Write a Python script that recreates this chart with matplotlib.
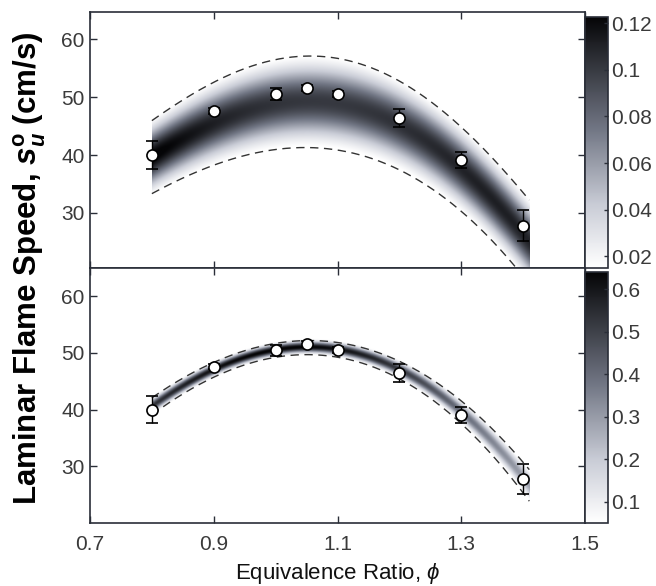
import numpy as np
import matplotlib
matplotlib.use("Agg")
import matplotlib.pyplot as plt
from matplotlib.colors import LinearSegmentedColormap

plt.rcParams['font.family'] = ['Liberation Sans', 'DejaVu Sans']
plt.rcParams['mathtext.fontset'] = 'custom'
plt.rcParams['mathtext.rm'] = 'Liberation Sans'
plt.rcParams['mathtext.it'] = 'Liberation Sans:italic'
plt.rcParams['mathtext.bf'] = 'Liberation Sans:bold'
plt.rcParams['mathtext.bfit'] = 'Liberation Sans:italic:bold'

# measured flame speeds
phi = [0.8, 0.9, 1.0, 1.05, 1.1, 1.2, 1.3, 1.4]
su = [40.0, 47.6, 50.5, 51.6, 50.5, 46.4, 39.1, 27.8]
su_err = [2.4, 0.5, 1.0, 0.5, 0.5, 1.6, 1.4, 2.7]

# model mean / std dev (prior on top, constrained below)
phi_model = [0.8, 0.9, 1.0, 1.1, 1.2, 1.3, 1.4]
prior_mean = [39.7, 45.2, 48.9, 49.0, 44.6, 37.9, 26.2]
prior_sd = [3.15, 3.6, 3.8, 4.1, 3.7, 3.7, 3.6]
post_mean = [40.6, 47.0, 50.5, 50.6, 46.9, 39.6, 28.0]
post_sd = [0.75, 0.65, 0.62, 0.64, 0.78, 1.0, 1.35]

phi_range = (0.8, 1.41)
cb_ticks_top = [0.02, 0.04, 0.06, 0.08, 0.1, 0.12]
cb_ticks_bot = [0.1, 0.2, 0.3, 0.4, 0.5, 0.6]

# white -> slate grey -> black
cmap = LinearSegmentedColormap.from_list(
    'pdf', [(0.0, '#ffffff'), (0.25, '#c9ccd6'), (0.55, '#727785'),
            (1.0, '#050507')])

W, H = 656, 586
fig = plt.figure(figsize=(W / 100, H / 100), dpi=100, facecolor='white')

def box(l, t, r, b):
    return [l / W, 1 - b / H, (r - l) / W, (b - t) / H]

ax1 = fig.add_axes(box(90, 12, 585, 268))
ax2 = fig.add_axes(box(90, 268, 585, 523))
cax1 = fig.add_axes(box(585, 17, 608, 268))
cax2 = fig.add_axes(box(585, 272, 608, 523))

spine_c = '#2a2e38'
tick_c = '#3a3a3a'


def band(ax, cax, mean, sd, ylim, vmin, vmax, ticks):
    x = np.linspace(phi_range[0], phi_range[1], 400)
    y = np.linspace(ylim[0], ylim[1], 700)
    mu = np.polyval(np.polyfit(phi_model, mean, 4), x)
    sg = np.polyval(np.polyfit(phi_model, sd, 4), x)
    X, Y = np.meshgrid(x, y)
    dens = np.exp(-(Y - mu) ** 2 / (2 * sg ** 2)) / (sg * np.sqrt(2 * np.pi))
    im = ax.imshow(dens, origin='lower', aspect='auto', cmap=cmap,
                   extent=[x[0], x[-1], y[0], y[-1]], vmin=vmin, vmax=vmax,
                   interpolation='bilinear', zorder=1)
    for s in (-2, 2):
        ax.plot(x, mu + s * sg, color='#333333', lw=1.0, dashes=(6, 4), zorder=2)
    ax.errorbar(phi, su, yerr=su_err, fmt='o', mfc='white', mec='black', ms=8,
                mew=1.2, ecolor='black', elinewidth=1.0, capsize=4, zorder=5)
    ax.set_xlim(0.7, 1.5)
    ax.set_ylim(*ylim)
    ax.set_xticks([0.7, 0.9, 1.1, 1.3, 1.5])
    ax.set_yticks([30, 40, 50, 60])
    ax.tick_params(direction='in', top=True, right=True, length=5, width=1,
                   color=spine_c, labelsize=15, labelcolor=tick_c, pad=4)
    ax.tick_params(axis='x', pad=9)
    for sp in ax.spines.values():
        sp.set_color(spine_c)
        sp.set_linewidth(1.2)

    cb = fig.colorbar(im, cax=cax, ticks=ticks, format='%g')
    cax.tick_params(direction='in', length=3, width=1, color=spine_c,
                    labelsize=15, labelcolor=tick_c, pad=2)
    cb.outline.set_edgecolor(spine_c)
    cb.outline.set_linewidth(1.2)
    return im


band(ax1, cax1, prior_mean, prior_sd, (20.5, 64.7), 0.015, 0.1226, cb_ticks_top)
band(ax2, cax2, post_mean, post_sd, (20, 65), 0.05, 0.64, cb_ticks_bot)

ax1.tick_params(labelbottom=False)
ax2.set_xlabel(r'Equivalence Ratio, $\phi$', fontsize=16, color='#111111',
               labelpad=5)

fig.text(30 / W, 1 - 268 / H,
         r'Laminar Flame Speed, $\mathbfit{s}_{\mathbfit{u}}^{\mathbf{o}}$ (cm/s)',
         rotation=90, ha='center', va='center', fontsize=22.5,
         fontweight='bold', color='black')

fig.savefig('out.png', dpi=100, facecolor='white')
